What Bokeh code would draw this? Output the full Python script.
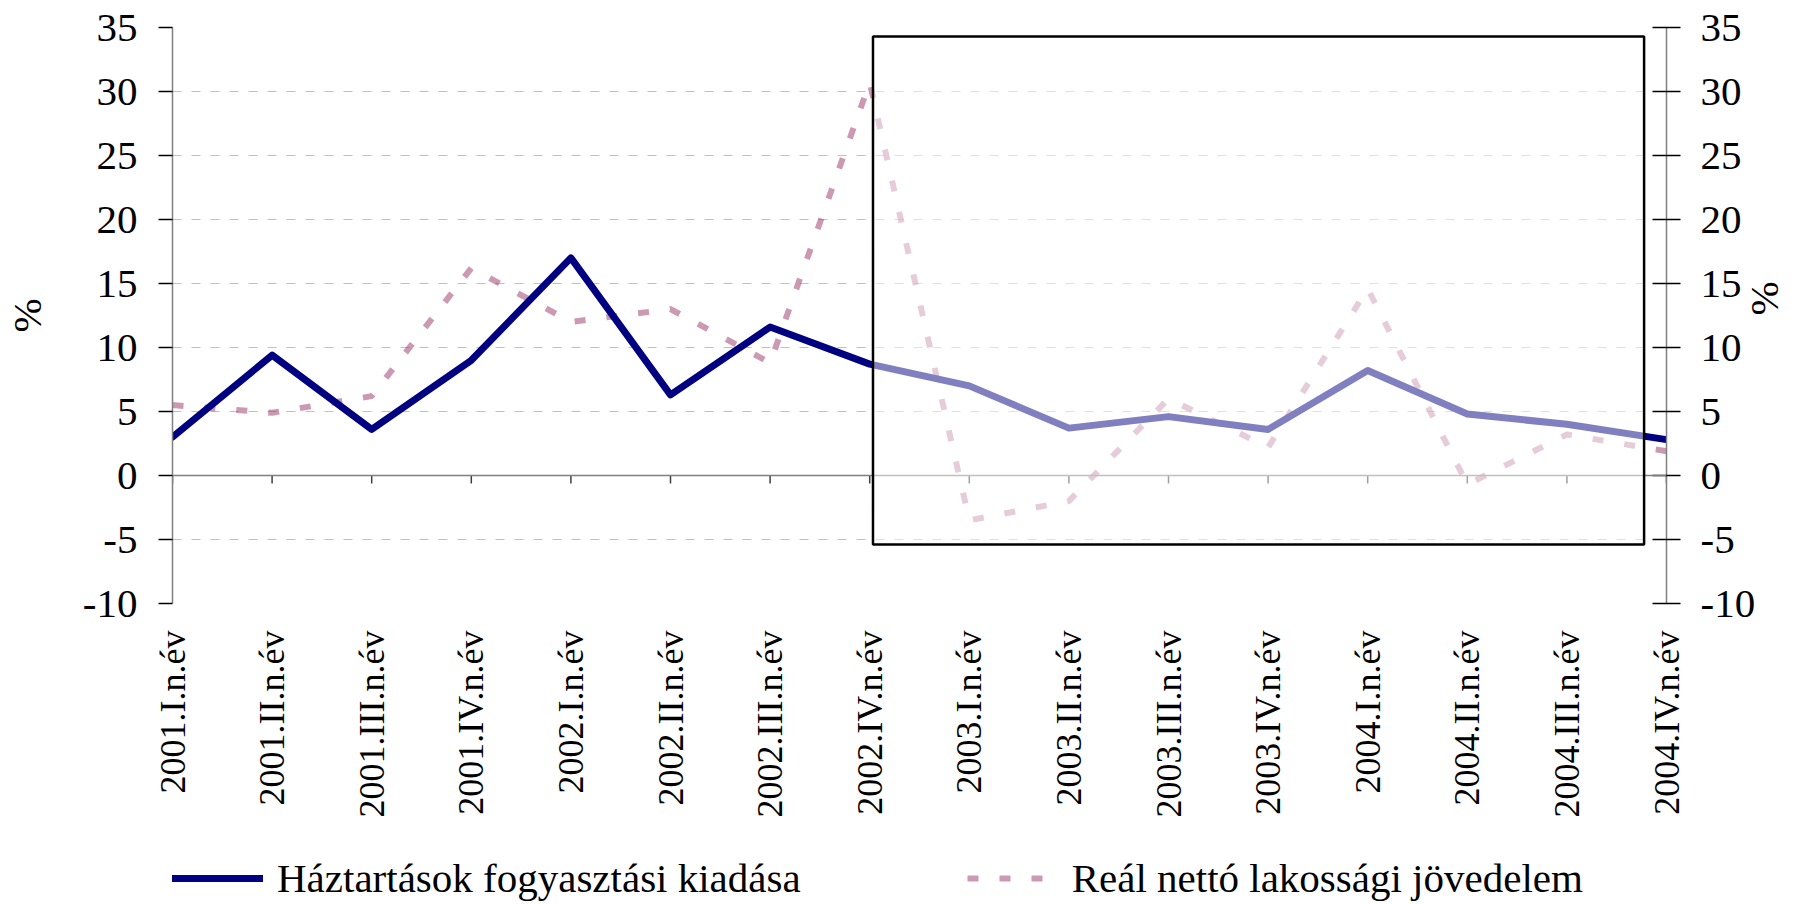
import math
from bokeh.plotting import figure
from bokeh.layouts import column
from bokeh.models import (Range1d, LinearAxis, FixedTicker, Span, BoxAnnotation,
                          Legend, LegendItem, Axis)
from bokeh.embed import file_html
from bokeh.resources import INLINE

# ---------------- data ----------------
categories = ["2001.I.n.év", "2001.II.n.év", "2001.III.n.év", "2001.IV.n.év",
              "2002.I.n.év", "2002.II.n.év", "2002.III.n.év", "2002.IV.n.év",
              "2003.I.n.év", "2003.II.n.év", "2003.III.n.év", "2003.IV.n.év",
              "2004.I.n.év", "2004.II.n.év", "2004.III.n.év", "2004.IV.n.év"]
consumption = [3.0, 9.4, 3.6, 9.0, 17.0, 6.3, 11.6, 8.7,
               7.0, 3.7, 4.6, 3.6, 8.2, 4.8, 4.0, 2.8]
income = [5.5, 4.9, 6.2, 16.2, 12.0, 13.0, 8.8, 30.7,
          -3.5, -2.0, 6.0, 2.2, 14.6, -0.7, 3.2, 1.9]
y_ticks = [-10, -5, 0, 5, 10, 15, 20, 25, 30, 35]
series_names = ["Háztartások fogyasztási kiadása", "Reál nettó lakossági jövedelem"]
axis_title = "%"

# ---------------- style ----------------
FONT = "Liberation Serif"
W = 1816
H_MAIN, H_LEG = 836, 66
FRAME_L, FRAME_R, FRAME_T, FRAME_B = 170, 1666, 27, 603
FRAME_H = FRAME_B - FRAME_T
BLUE = "#000080"
PINK = "#993366"
con_style = dict(line_color=BLUE, line_width=7, line_join="round", line_cap="round")
inc_style = dict(line_color=PINK, line_alpha=0.5, line_width=6, line_dash="11 21")

x = list(range(len(categories)))

p = figure(width=W, height=H_MAIN, output_backend="svg", toolbar_location=None,
           x_range=Range1d(x[0], x[-1]), y_range=Range1d(y_ticks[0], y_ticks[-1]),
           min_border_left=FRAME_L, min_border_right=W - FRAME_R,
           min_border_top=FRAME_T, min_border_bottom=H_MAIN - FRAME_B)
p.outline_line_color = None
p.background_fill_color = "white"
p.border_fill_color = "white"

# x axis (labels only, ticks drawn on zero line)
xa = p.xaxis[0]
xa.ticker = FixedTicker(ticks=x)
xa.major_label_overrides = {i: c for i, c in zip(x, categories)}
xa.major_label_orientation = math.pi / 2
xa.axis_line_color = None
xa.major_tick_line_color = None
xa.minor_tick_line_color = None
xa.major_tick_out = 0
xa.major_tick_in = 0
xa.major_label_standoff = 27
xa.major_label_text_font = FONT
xa.major_label_text_font_size = "36px"
xa.major_label_text_color = "black"

yt = FixedTicker(ticks=y_ticks)
neg_labels = {t: str(t) for t in y_ticks if t < 0}

def style_y(ax, tick_in, standoff, label_standoff):
    ax.ticker = yt
    ax.major_label_overrides = neg_labels
    ax.axis_line_color = "#808080"
    ax.axis_line_width = 1.5
    ax.major_tick_line_color = "black"
    ax.major_tick_line_width = 1.5
    ax.major_tick_out = 14
    ax.major_tick_in = tick_in
    ax.minor_tick_line_color = None
    ax.major_label_standoff = standoff
    ax.major_label_text_font = FONT
    ax.major_label_text_font_size = "41px"
    ax.major_label_text_color = "black"
    ax.axis_label = axis_title
    ax.axis_label_standoff = label_standoff
    ax.axis_label_text_font = FONT
    ax.axis_label_text_font_size = "41px"
    ax.axis_label_text_font_style = "normal"
    ax.axis_label_text_color = "black"

style_y(p.yaxis[0], 0, 21, 30)
ra = LinearAxis()
style_y(ra, 14, 20, 6)
if "axis_label_orientation" in Axis.properties():
    ra.axis_label_orientation = math.pi / 2
p.add_layout(ra, "right")

p.xgrid.visible = False
p.ygrid.ticker = yt
p.ygrid.grid_line_color = "#c0c0c0"
p.ygrid.grid_line_dash = "9 10"
p.ygrid.grid_line_width = 1

# zero line and category ticks on it
p.add_layout(Span(location=0, dimension="width", line_color="#808080", line_width=1.5))
tick_len = 8 * (y_ticks[-1] - y_ticks[0]) / FRAME_H
p.segment(x0=x, y0=[0] * len(x), x1=x, y1=[-tick_len] * len(x),
          line_color="#404040", line_width=1.5)

p.line(x, income, **inc_style)
p.line(x, consumption, **con_style)

# highlighted box (semi-transparent white overlay with black border)
p.add_layout(BoxAnnotation(left=7.033, right=14.775, bottom=-5.39, top=34.30,
                           fill_color="white", fill_alpha=0.5,
                           line_color="black", line_width=2.5, line_alpha=1))

# ---------------- legend strip ----------------
# same series drawn into a strip whose y-range keeps them out of view; only the
# legend samples are visible there
leg = figure(width=W, height=H_LEG, output_backend="svg", toolbar_location=None,
             x_range=Range1d(x[0], x[-1]), y_range=Range1d(-1000, -999),
             x_axis_type=None, y_axis_type=None, min_border=0)
leg.outline_line_color = None
leg.background_fill_color = "white"
leg.border_fill_color = "white"
leg.xgrid.visible = False
leg.ygrid.visible = False
s_con = leg.line(x, consumption, **con_style)
s_inc = leg.line(x, income, **inc_style)
legend = Legend(items=[LegendItem(label=series_names[0], renderers=[s_con]),
                       LegendItem(label=series_names[1], renderers=[s_inc])],
                location=(0, 0), orientation="horizontal",
                glyph_width=91, glyph_height=40, label_standoff=14,
                label_height=40, label_text_font=FONT, label_text_font_size="41px",
                label_text_color="black", padding=0, margin=0, spacing=166,
                border_line_color=None, background_fill_alpha=0)
leg.add_layout(legend)

layout = column(p, leg, spacing=0)
open("out.html", "w").write(file_html(layout, INLINE))
